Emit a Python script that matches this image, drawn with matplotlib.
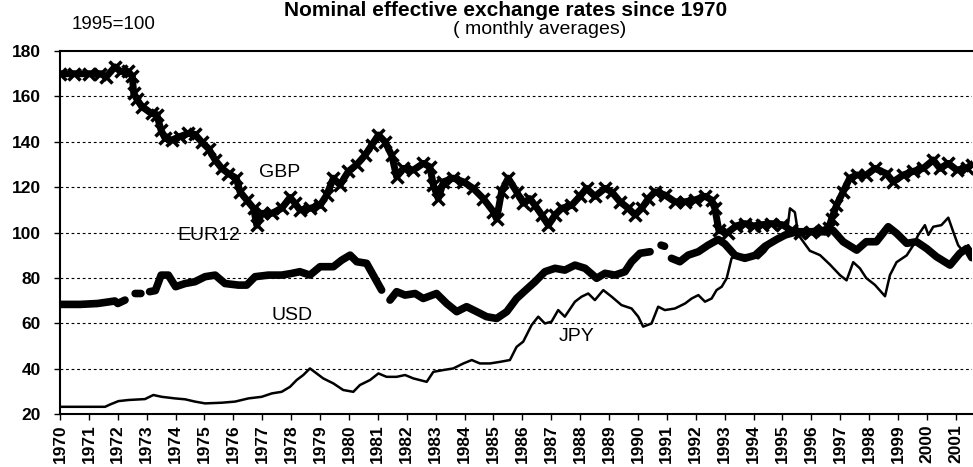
import numpy as np
import matplotlib
matplotlib.use("Agg")
from matplotlib import pyplot as plt

plt.rcParams['font.family'] = ['Liberation Sans', 'DejaVu Sans']

# values (1995=100)
gbp_t = [1970.0, 1970.5, 1971.0, 1971.4, 1971.6, 1971.9, 1972.1, 1972.35, 1972.5, 1972.55,
         1972.65, 1972.83, 1973.17, 1973.35, 1973.5, 1973.64, 1973.87, 1974.15, 1974.44, 1974.67,
         1974.9, 1975.14, 1975.37, 1975.6, 1975.83, 1976.1, 1976.23, 1976.46, 1976.7, 1976.81,
         1976.98, 1977.33, 1977.67, 1977.96, 1978.13, 1978.3, 1978.65, 1979.0, 1979.23, 1979.46,
         1979.69, 1979.98, 1980.27, 1980.55, 1980.79, 1981.02, 1981.25, 1981.48, 1981.65, 1981.88,
         1982.23, 1982.57, 1982.8, 1982.92, 1983.09, 1983.27, 1983.61, 1983.96, 1984.3, 1984.65,
         1985.0, 1985.11, 1985.28, 1985.51, 1985.8, 1986.03, 1986.26, 1986.44, 1986.67, 1986.9,
         1987.13, 1987.36, 1987.7, 1987.99, 1988.22, 1988.51, 1988.86, 1989.09, 1989.38, 1989.67,
         1989.9, 1990.13, 1990.36, 1990.59, 1990.93, 1991.28, 1991.63, 1991.97, 1992.32, 1992.55,
         1992.66, 1992.8, 1993.1, 1993.4, 1993.7, 1994.0, 1994.3, 1994.6, 1995.0, 1995.3,
         1995.6, 1996.0, 1996.4, 1996.6, 1996.7, 1996.87, 1997.1, 1997.33, 1997.57, 1997.9,
         1998.2, 1998.6, 1998.83, 1999.18, 1999.53, 1999.87, 2000.22, 2000.45, 2000.74, 2001.03,
         2001.37, 2001.55]
gbp = [170, 170, 170, 170, 168.7, 173, 171, 171, 169, 161.5,
       159, 155.5, 152.5, 152, 145, 141.5, 140.8, 142.3, 143.7, 143.3,
       140, 137, 132, 128.3, 126, 124, 118, 114.4, 110.7, 103.3,
       108.5, 108.5, 110.7, 115.5, 113, 110, 110.7, 112, 116.6, 124,
       121, 127, 130, 134, 138.6, 143, 140, 134, 124.6, 128.3,
       127.6, 130.5, 129, 121, 115, 122.4, 124, 122.4, 119.5, 115,
       109.2, 106, 118, 124, 118, 113, 115, 112, 107.8, 103.3,
       107.8, 110.7, 112, 116, 119.5, 116, 119.5, 118, 113.6, 110.7,
       107.8, 110.7, 115, 118, 116.6, 113.6, 113.6, 114.4, 116, 114.4,
       110.7, 101, 100, 103, 104, 103, 103.5, 104, 103.5, 101,
       100, 100.5, 101, 102, 106, 112, 118, 124, 125.4, 125.4,
       128.3, 126, 122.4, 125.4, 127, 128.3, 132, 128.3, 130.5, 127.6,
       128.3, 130]

eur_t = [1970.0, 1970.7, 1971.3, 1971.9, 1972.0, 1972.25, 1972.4, 1972.6, 1972.8, 1972.95,
         1973.1, 1973.3, 1973.5, 1973.75, 1974.0, 1974.33, 1974.67, 1975.02, 1975.37, 1975.71,
         1976.17, 1976.46, 1976.75, 1977.21, 1977.67, 1978.0, 1978.3, 1978.65, 1979.0, 1979.46,
         1979.75, 1980.04, 1980.27, 1980.61, 1980.9, 1981.13, 1981.3, 1981.42, 1981.65, 1981.94,
         1982.29, 1982.57, 1983.03, 1983.38, 1983.73, 1984.07, 1984.42, 1984.76, 1985.11, 1985.46,
         1985.8, 1986.1, 1986.44, 1986.78, 1987.13, 1987.47, 1987.82, 1988.17, 1988.57, 1988.86,
         1989.2, 1989.55, 1989.78, 1990.07, 1990.42, 1990.7, 1990.8, 1990.92, 1991.02, 1991.16,
         1991.45, 1991.74, 1992.09, 1992.43, 1992.78, 1993.01, 1993.36, 1993.7, 1994.05, 1994.4,
         1994.8, 1995.1, 1995.5, 1996.0, 1996.5, 1996.75, 1997.1, 1997.57, 1997.9, 1998.25,
         1998.66, 1998.95, 1999.3, 1999.64, 1999.99, 2000.33, 2000.8, 2001.14, 2001.37, 2001.55]
eur12 = [68.4, 68.4, 68.8, 69.9, 68.8, 70.3, np.nan, 73.2, 73.2, np.nan,
         74, 74.5, 81.3, 81.3, 76.2, 77.6, 78.4, 80.6, 81.3, 77.6,
         76.9, 76.9, 80.6, 81.3, 81.3, 82, 82.8, 81.3, 85, 85,
         87.9, 90.1, 87.2, 86.5, 79.9, 74.7, np.nan, 70.3, 74, 72.5,
         73.2, 71, 73.2, 68.8, 65.2, 67.4, 65.2, 63, 62.2, 65.2,
         71, 74.5, 78.4, 82.8, 84.3, 83.5, 85.7, 84.3, 79.9, 82.1,
         81.3, 82.8, 87.2, 90.9, 91.6, np.nan, 94.5, 94, np.nan, 88.7,
         87.2, 90.1, 91.6, 94.5, 97, 95, 90, 88.7, 90, 94,
         97, 99, 100.4, 100.4, 100.4, 101, 96, 92.3, 96, 96,
         102.6, 99.7, 95.3, 96, 93, 89.4, 85.7, 90.9, 93, 89]

jpy_t = [1970.0, 1971.56, 1971.73, 1972.02, 1972.37, 1972.94, 1973.23, 1973.52, 1973.98, 1974.33,
         1974.67, 1975.02, 1975.6, 1976.06, 1976.52, 1976.98, 1977.33, 1977.67, 1977.96, 1978.19,
         1978.42, 1978.65, 1978.88, 1979.11, 1979.46, 1979.8, 1980.15, 1980.38, 1980.73, 1981.02,
         1981.3, 1981.65, 1981.94, 1982.23, 1982.69, 1982.92, 1983.27, 1983.61, 1983.96, 1984.25,
         1984.53, 1984.88, 1985.23, 1985.57, 1985.8, 1986.03, 1986.32, 1986.55, 1986.78, 1987.01,
         1987.24, 1987.47, 1987.82, 1988.05, 1988.28, 1988.51, 1988.8, 1989.09, 1989.43, 1989.78,
         1990.01, 1990.18, 1990.47, 1990.7, 1990.93, 1991.28, 1991.63, 1991.86, 1992.09, 1992.32,
         1992.55, 1992.72, 1992.9, 1993.07, 1993.24, 1993.47, 1993.82, 1994.16, 1994.4, 1994.57,
         1994.91, 1995.14, 1995.26, 1995.43, 1995.55, 1995.95, 1996.3, 1996.64, 1996.99, 1997.22,
         1997.45, 1997.68, 1997.9, 1998.2, 1998.55, 1998.72, 1998.95, 1999.3, 1999.53, 1999.7,
         1999.93, 2000.05, 2000.22, 2000.5, 2000.74, 2000.91, 2001.08, 2001.26, 2001.43, 2001.55]
jpy = [23.3, 23.3, 24.3, 25.8, 26.3, 26.7, 28.5, 27.7, 27, 26.6,
       25.6, 24.8, 25.1, 25.6, 27, 27.7, 29.2, 29.9, 32.1, 35.1,
       37.3, 40.2, 38, 35.8, 33.6, 30.7, 29.9, 32.9, 35.1, 38,
       36.5, 36.5, 37.3, 35.8, 34.3, 38.7, 39.5, 40.2, 42.4, 43.9,
       42.4, 42.4, 43.1, 43.9, 49.7, 52, 59.3, 63, 60, 60.8,
       65.9, 63, 69.6, 71.8, 73.2, 70.3, 74.7, 71.8, 68.1, 66.6,
       63, 58.6, 60, 67.4, 65.9, 66.6, 68.8, 71, 72.5, 69.6,
       71, 74.7, 76.2, 79.9, 88.7, 90.1, 90.1, 88.7, 91.6, 94.5,
       97.5, 98.2, 110.7, 109, 99, 92, 90.1, 86, 81.3, 79,
       87, 84.3, 80, 77, 72, 81.3, 87, 90, 94.5, 99,
       103.3, 99, 102.6, 103.3, 106.6, 100.4, 94.5, 91.6, 94.5, 92.3]

years = list(range(1970, 2002))

fig = plt.figure(figsize=(9.73, 4.67), dpi=100)
ax = fig.add_axes([60/973, 1 - 414.3/467, 912/973, (414.3 - 51)/467])

ax.plot(jpy_t, jpy, color='black', lw=1.8)
ax.plot(eur_t, eur12, color='black', lw=5.5, solid_capstyle='round')
ax.plot(gbp_t, gbp, color='black', lw=5, marker='x', ms=9, mew=2.5)

ax.set_xlim(1970, 2001.56)
ax.set_ylim(20, 180)
ax.set_yticks(range(20, 181, 20))
ax.set_xticks(years)
ax.set_xticklabels([str(y) for y in years], rotation=90, fontsize=12.5, fontweight='bold')
for lab in ax.get_yticklabels():
    lab.set_fontsize(12.5)
    lab.set_fontweight('bold')
ax.tick_params(axis='both', direction='out', length=4, width=1, color='black')
ax.tick_params(axis='y', pad=10)
ax.tick_params(axis='x', pad=3)

for v in range(40, 180, 20):
    ax.axhline(v, color='black', lw=0.8, ls=(0, (2.5, 2.5)), zorder=0)

ax.spines['right'].set_visible(False)
for s in ['left', 'bottom', 'top']:
    ax.spines[s].set_linewidth(1.5)

ax.text(1977.61, 126.7, 'GBP', fontsize=14, ha='center', va='center')
ax.text(1975.16, 98.9, 'EUR12', fontsize=14, ha='center', va='center')
ax.text(1978.03, 63.3, 'USD', fontsize=14, ha='center', va='center')
ax.text(1987.89, 54.4, 'JPY', fontsize=14, ha='center', va='center')
ax.text(1971.87, 191.5, '1995=100', fontsize=13.5, ha='center', va='center', clip_on=False)

fig.text(0.52, 0.997, 'Nominal effective exchange rates since 1970',
         fontsize=15, fontweight='bold', ha='center', va='top')
fig.text(540/973, 1 - 30/467, '( monthly averages)', fontsize=14, ha='center', va='center')

fig.savefig('out.png', dpi=100)
